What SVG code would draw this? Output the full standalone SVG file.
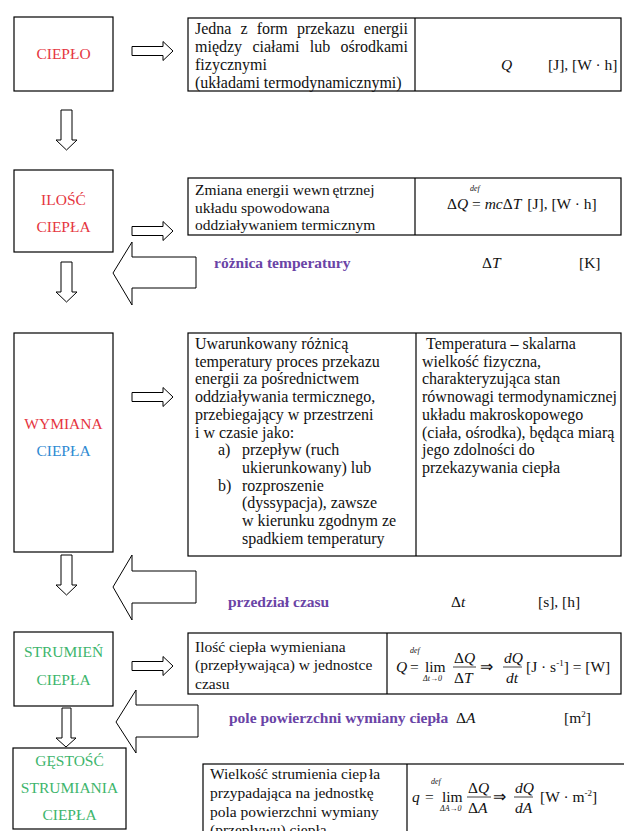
<svg xmlns="http://www.w3.org/2000/svg" width="624" height="831" viewBox="0 0 624 831">
<style>
text{font-family:'Liberation Serif','Times New Roman',serif}
.bx{fill:#fff;stroke:#000;stroke-width:1.2}
.tb{fill:none;stroke:#000;stroke-width:1.2}
.ar{fill:#fff;stroke:#000;stroke-width:1}
.t{font-size:15.5px;fill:#111}
.t6{font-size:16px;fill:#111}
.lb{font-size:15.5px;text-anchor:middle}
.pu{font-size:15.5px;font-weight:bold;fill:#6a44a6}
.m{font-size:15.5px;fill:#111}
.i{font-style:italic}
.s{font-size:8px;font-style:italic;fill:#111}
.fb{stroke:#111;stroke-width:0.8}
.red{fill:#e5363f}
.blue{fill:#2f8ad2}
.green{fill:#3db56c}
</style>
<rect width="624" height="831" fill="#fff"/>

<g id="connectors">
  <path class="ar" d="M132,46.5H163V41.5L173,51L163,60.5V55.5H132Z"/>
  <path class="ar" d="M61,110H72V140H77L66.5,150L56,140H61Z"/>
  <path class="ar" d="M132,226.5H163V221.5L173,231L163,240.5V235.5H132Z"/>
  <path class="ar" d="M61,262H72V292H77L66.5,302L56,292H61Z"/>
  <path class="ar" d="M196,257H132V242L113,273L132,305V288H196Z"/>
  <path class="ar" d="M132,392.5H163V387.5L173,397L163,406.5V401.5H132Z"/>
  <path class="ar" d="M61,555H72V585H77L66.5,595L56,585H61Z"/>
  <path class="ar" d="M196,571H132V555L113,587L132,620V603H196Z"/>
  <path class="ar" d="M132,661.5H163V656.5L173,666L163,675.5V670.5H132Z"/>
  <path class="ar" d="M198,705H136V690L116,722L136,753V737H198Z"/>
  <path class="ar" d="M62,708H71V738H76L66,747L56,738H62Z"/>
</g>

<g id="node-cieplo">
  <rect class="bx" x="14" y="17" width="99" height="74"/>
  <text class="lb red" x="63.5" y="59">CIEPŁO</text>
</g>

<g id="table-cieplo">
  <rect class="tb" x="188" y="18" width="433" height="73"/>
  <line class="tb" x1="415" y1="18" x2="415" y2="91"/>
  <text class="t6" y="34"><tspan x="195">Jedna</tspan> <tspan x="240.5">z</tspan> <tspan x="256.7">form</tspan> <tspan x="296.9">przekazu</tspan> <tspan x="408" text-anchor="end">energii</tspan></text>
  <text class="t6" y="52"><tspan x="195">między</tspan> <tspan x="252.4">ciałami</tspan> <tspan x="309.8">lub</tspan> <tspan x="408" text-anchor="end">ośrodkami</tspan></text>
  <text class="t6" x="195" y="70">fizycznymi</text>
  <text class="t6" x="195" y="87.5">(układami termodynamicznymi)</text>
  <text class="m i" x="501" y="69.5">Q</text>
  <text class="m" x="548" y="69.5">[J], [W · h]</text>
</g>

<g id="node-ilosc">
  <rect class="bx" x="14" y="170" width="99" height="82"/>
  <text class="lb red" x="63.5" y="205">ILOŚĆ</text>
  <text class="lb red" x="63.5" y="232">CIEPŁA</text>
</g>

<g id="table-ilosc">
  <rect class="tb" x="188" y="178" width="433" height="57"/>
  <line class="tb" x1="415" y1="178" x2="415" y2="235"/>
  <text class="t" x="195" y="194.5">Zmiana energii wewn<tspan dx="2.5">ętrznej</tspan></text>
  <text class="t" x="195" y="212.5">układu spowodowana</text>
  <text class="t" x="195" y="230">oddziaływaniem termicznym</text>
  <text class="m" x="447" y="209">Δ<tspan class="i">Q</tspan> = <tspan class="i">mc</tspan>Δ<tspan class="i">T</tspan><tspan dx="6">[J], [W · h]</tspan></text>
  <text class="s" x="470" y="191">def</text>
</g>

<g id="label-roznica">
  <text class="pu" x="214" y="268">różnica temperatury</text>
  <text class="m" x="482" y="268">Δ<tspan class="i">T</tspan></text>
  <text class="m" x="579" y="268">[K]</text>
</g>

<g id="node-wymiana">
  <rect class="bx" x="14" y="333" width="99" height="219"/>
  <text class="lb red" x="63.5" y="429">WYMIANA</text>
  <text class="lb blue" x="63.5" y="456">CIEPŁA</text>
</g>

<g id="table-wymiana">
  <rect class="tb" x="188" y="333" width="433" height="223"/>
  <line class="tb" x1="416" y1="333" x2="416" y2="556"/>
  <text class="t6" x="195" y="349">Uwarunkowany różnicą</text>
  <text class="t6" x="195" y="366.7">temperatury proces przekazu</text>
  <text class="t6" x="195" y="384.4">energii za pośrednictwem</text>
  <text class="t6" x="195" y="402.1">oddziaływania termicznego,</text>
  <text class="t6" x="195" y="419.8">przebiegający w przestrzeni</text>
  <text class="t6" x="195" y="437.5">i w czasie jako:</text>
  <text class="t6" x="218" y="455.2">a)</text>
  <text class="t6" x="242" y="455.2">przepływ (ruch</text>
  <text class="t6" x="242" y="472.9">ukierunkowany) lub</text>
  <text class="t6" x="218" y="490.6">b)</text>
  <text class="t6" x="242" y="490.6">rozproszenie</text>
  <text class="t6" x="242" y="508.3">(dyssypacja), zawsze</text>
  <text class="t6" x="242" y="526">w kierunku zgodnym ze</text>
  <text class="t6" x="242" y="543.7">spadkiem temperatury</text>
  <text class="t6" x="426" y="349">Temperatura – skalarna</text>
  <text class="t6" x="422" y="366.7">wielkość fizyczna,</text>
  <text class="t6" x="422" y="384.4">charakteryzująca stan</text>
  <text class="t6" x="422" y="402.1">równowagi termodynamicznej</text>
  <text class="t6" x="422" y="419.8">układu makroskopowego</text>
  <text class="t6" x="422" y="437.5">(ciała, ośrodka), będąca miarą</text>
  <text class="t6" x="422" y="455.2">jego zdolności do</text>
  <text class="t6" x="422" y="472.9">przekazywania ciepła</text>
</g>

<g id="label-czas">
  <text class="pu" x="228" y="607">przedział czasu</text>
  <text class="m" x="451" y="607">Δ<tspan class="i">t</tspan></text>
  <text class="m" x="538" y="607">[s], [h]</text>
</g>

<g id="node-strumien">
  <rect class="bx" x="14" y="632" width="99" height="74"/>
  <text class="lb green" x="63.5" y="657">STRUMIEŃ</text>
  <text class="lb green" x="63.5" y="685">CIEPŁA</text>
</g>

<g id="table-strumien">
  <rect class="tb" x="188" y="633" width="433" height="61"/>
  <line class="tb" x1="387" y1="633" x2="387" y2="694"/>
  <text class="t" x="195" y="651.5">Ilość ciepła wymieniana</text>
  <text class="t" x="195" y="670">(przepływająca) w jednostce</text>
  <text class="t" x="195" y="688.5">czasu</text>
  <text class="m i" x="396" y="672">Q</text>
  <text class="s" x="410" y="653">def</text>
  <text class="m" x="410" y="672">=</text>
  <text class="m" x="425" y="672">lim</text>
  <text class="s" x="423" y="681" font-style="normal">Δ<tspan font-style="italic">t</tspan>→0</text>
  <text class="m" x="454" y="663">Δ<tspan class="i">Q</tspan></text>
  <line class="fb" x1="453" y1="667" x2="476" y2="667"/>
  <text class="m" x="454" y="683">Δ<tspan class="i">T</tspan></text>
  <text class="m" x="480" y="672">⇒</text>
  <text class="m i" x="504" y="663">dQ</text>
  <line class="fb" x1="503" y1="667" x2="522" y2="667"/>
  <text class="m i" x="506" y="683">dt</text>
  <text class="m" x="526" y="672">[J · s<tspan font-size="9" dy="-6">-1</tspan><tspan dy="6">] = [W]</tspan></text>
</g>

<g id="label-pole">
  <text class="pu" x="229" y="723">pole powierzchni wymiany ciepła</text>
  <text class="m" x="456" y="723">Δ<tspan class="i">A</tspan></text>
  <text class="m" x="564" y="723">[m<tspan font-size="9" dy="-6">2</tspan><tspan dy="6">]</tspan></text>
</g>

<g id="node-gestosc">
  <rect class="bx" x="13" y="748" width="113" height="81"/>
  <text class="lb green" x="69.5" y="766">GĘSTOŚĆ</text>
  <text class="lb green" x="69.5" y="793">STRUMIANIA</text>
  <text class="lb green" x="69.5" y="820">CIEPŁA</text>
</g>

<g id="table-gestosc">
  <rect class="tb" x="203" y="764" width="432" height="80"/>
  <line class="tb" x1="407" y1="764" x2="407" y2="844"/>
  <text class="t" x="210" y="779">Wielkość strumienia ciep<tspan dx="2">ła</tspan></text>
  <text class="t" x="210" y="798">przypadająca na jednostkę</text>
  <text class="t" x="210" y="816.5">pola powierzchni wymiany</text>
  <text class="t" x="210" y="835">(przepływu) ciepła</text>
  <text class="m i" x="412" y="802">q</text>
  <text class="s" x="431" y="784">def</text>
  <text class="m" x="425" y="802">=</text>
  <text class="m" x="442" y="802">lim</text>
  <text class="s" x="440" y="811" font-style="normal">Δ<tspan font-style="italic">A</tspan>→0</text>
  <text class="m" x="468" y="793">Δ<tspan class="i">Q</tspan></text>
  <line class="fb" x1="467" y1="797" x2="491" y2="797"/>
  <text class="m" x="468" y="813">Δ<tspan class="i">A</tspan></text>
  <text class="m" x="493" y="802">⇒</text>
  <text class="m i" x="515" y="793">dQ</text>
  <line class="fb" x1="514" y1="797" x2="533" y2="797"/>
  <text class="m i" x="515" y="813">dA</text>
  <text class="m" x="540" y="802">[W · m<tspan font-size="9" dy="-6">-2</tspan><tspan dy="6">]</tspan></text>
</g>
</svg>
